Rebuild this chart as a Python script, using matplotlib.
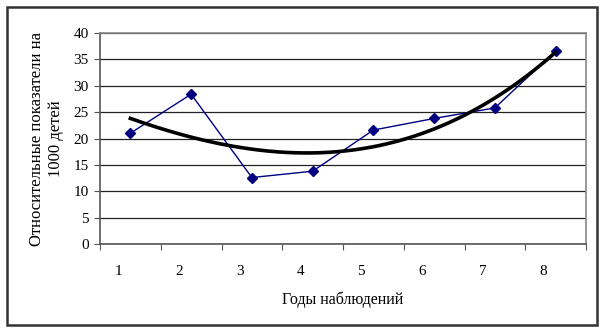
import matplotlib.pyplot as plt
import matplotlib.transforms as mtransforms
import numpy as np
from matplotlib.patches import Rectangle

years = [1, 2, 3, 4, 5, 6, 7, 8]
values = [21.0, 28.4, 12.6, 13.8, 21.6, 23.8, 25.8, 36.6]

plt.rcParams['font.family'] = ['Liberation Serif', 'DejaVu Serif']

fig = plt.figure(figsize=(6.05, 3.32), dpi=100)
ax = fig.add_axes([100 / 605, 1 - 244 / 332, 486 / 605, 211 / 332])

# frame around the whole chart
fig.patches.append(Rectangle((7 / 605, 1 - 325 / 332), 590 / 605, 318 / 332,
                             transform=fig.transFigure, fill=False,
                             edgecolor='#333333', linewidth=1.8))

ax.set_ylim(0, 40)
ax.set_xlim(0.5, 8.5)
ax.set_yticks(np.arange(0, 41, 5))
ax.yaxis.grid(True, color='#222222', linewidth=0.9)
ax.set_axisbelow(True)
for s in ax.spines.values():
    s.set_color('#888888')
    s.set_linewidth(1.2)
ax.spines['left'].set_color('#555555')
ax.spines['bottom'].set_color('#555555')

ax.plot(years, values, color='#000080', linewidth=1, marker='D',
        markersize=5.5, markerfacecolor='#000080', zorder=3)

# polynomial trend line over the data
coef = np.polyfit(years, values, 3)
xs = np.linspace(1, 8, 200)
ax.plot(xs, np.polyval(coef, xs), color='black', linewidth=2.6, zorder=4)

# x axis: marks between categories, labels shifted left as in the source
ax.set_xticks(np.arange(0.5, 8.6, 1))
ax.set_xticklabels([])
ax.tick_params(axis='x', which='major', direction='out', length=4,
               color='#555555')
ax.set_xticks(years, minor=True)
ax.set_xticklabels([str(y) for y in years], minor=True)
ax.tick_params(axis='x', which='minor', length=0, pad=15, labelsize=11)
off = mtransforms.ScaledTranslation(-12 / 100, 0, fig.dpi_scale_trans)
for lab in ax.xaxis.get_minorticklabels():
    lab.set_transform(lab.get_transform() + off)

ax.tick_params(axis='y', direction='out', length=4, color='#555555',
               labelsize=11, pad=4)

ax.set_xlabel('Годы наблюдений', fontsize=11.5, labelpad=10)
ax.set_ylabel('Относительные показатели на\n1000 детей', fontsize=12,
              labelpad=7, linespacing=1.25)

plt.savefig('out.png', dpi=100)
plt.close(fig)
